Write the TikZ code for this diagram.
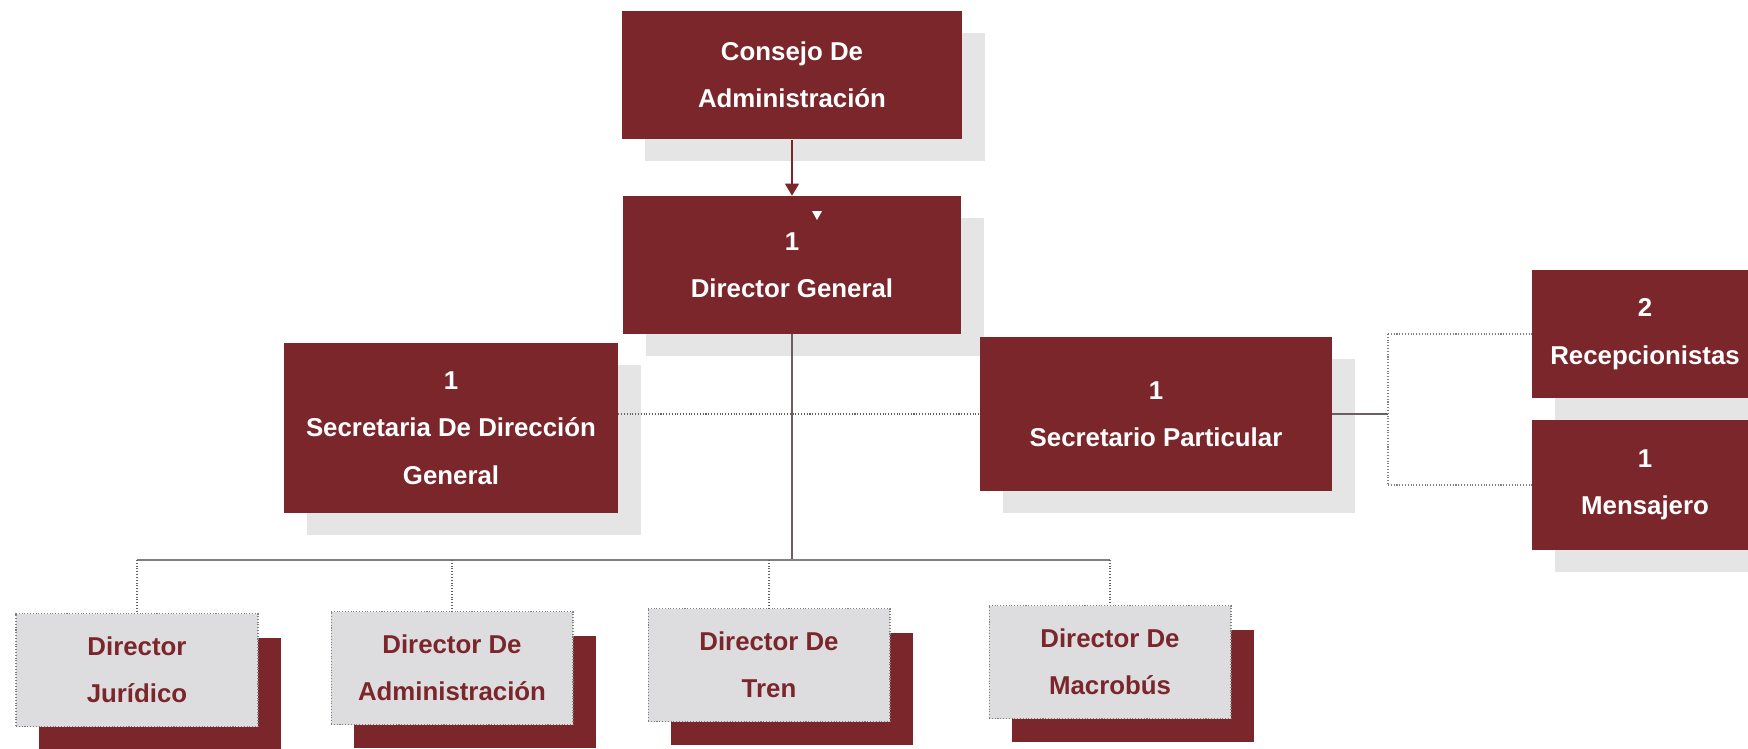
\documentclass[tikz,border=0pt]{standalone}
\usepackage{fontspec}
\setmainfont{Liberation Sans}
\usepackage{tikz}
\usetikzlibrary{arrows.meta,shadows}
\definecolor{vino}{RGB}{122,38,43}
\definecolor{grisfondo}{RGB}{221,221,223}
\definecolor{grissombra}{RGB}{229,229,229}
\definecolor{linea}{RGB}{105,95,95}

\begin{document}
\begin{tikzpicture}[x=0.02cm, y=-0.02cm]
			\tikzstyle{every node}=[font=\fontsize{14.7}{27}\selectfont\bfseries, align=center, inner sep=0pt]
			\tikzstyle{caja}=[fill=vino, text=white, general shadow={fill=grissombra, draw=none, shadow xshift=0.46cm, shadow yshift=-0.44cm}]
			\tikzstyle{cajagris}=[fill=grisfondo, draw=gray, densely dotted, line width=0.6pt, text=vino, minimum width=4.84cm, minimum height=2.26cm, general shadow={fill=vino, draw=none, shadow xshift=0.46cm, shadow yshift=-0.48cm}]
			\tikzstyle{conector}=[linea, line width=0.6pt]
			
			\useasboundingbox (0,0) rectangle (1748,748);
			
			%Direccion
			\node[caja, minimum width=6.82cm, minimum height=2.58cm] (consejo) at (792,75) {Consejo De\\Administración};
			\node[caja, minimum width=6.78cm, minimum height=2.76cm] (director) at (792,265) {1\\Director General};
			\fill[white] (812,211) -- (822,211) -- (817,220) -- cycle;
			
			%Secretarias
			\node[caja, minimum width=6.68cm, minimum height=3.40cm] (secdir) at (451,428) {1\\Secretaria De Dirección\\General};
			\node[caja, minimum width=7.04cm, minimum height=3.08cm] (secpart) at (1156,414) {1\\Secretario Particular};
			\node[caja, minimum width=4.52cm, minimum height=2.56cm] (recep) at (1645,334) {2\\Recepcionistas};
			\node[caja, minimum width=4.52cm, minimum height=2.60cm] (mensajero) at (1645,485) {1\\Mensajero};
			
			%Direcciones de area
			\node[cajagris] (juridico) at (137,670) {Director\\Jurídico};
			\node[cajagris] (admin) at (452,668) {Director De\\Administración};
			\node[cajagris] (tren) at (769,665) {Director De\\Tren};
			\node[cajagris] (macrobus) at (1110,662) {Director De\\Macrobús};
			
			%Lineas
			\draw[conector, vino, -{Triangle[length=0.24cm, width=0.28cm]}] (consejo) -- (director);
			\coordinate (nodo) at (792,560);
			\draw[conector] (director) -- (nodo);
			\draw[conector, gray] (juridico.north |- nodo) -- (macrobus.north |- nodo);
			\foreach \n in {juridico,admin,tren,macrobus}
				\draw[conector, densely dotted] (\n.north |- nodo) -- (\n);
			\draw[conector, densely dotted] (secdir.east |- secpart) -- (secpart);
			
			\coordinate (rama) at (1388,414);
			\draw[conector] (secpart) -- (rama);
			\draw[conector, gray, densely dotted] (rama |- recep) -- (rama |- mensajero);
			\draw[conector, gray, densely dotted] (rama |- recep) -- (recep);
			\draw[conector, gray, densely dotted] (rama |- mensajero) -- (mensajero);
\end{tikzpicture}
\end{document}
